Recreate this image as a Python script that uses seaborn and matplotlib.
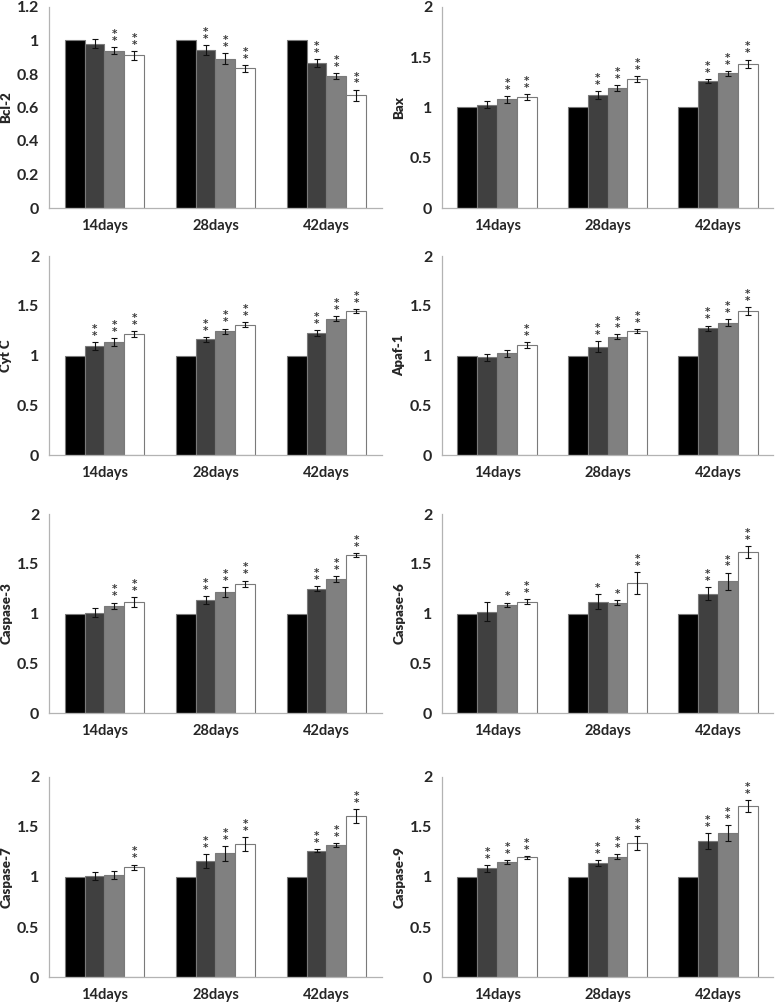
import numpy as np
import pandas as pd
import matplotlib
matplotlib.use("Agg")
import matplotlib.pyplot as plt
from matplotlib.container import BarContainer
from matplotlib.ticker import FuncFormatter, FixedLocator
import seaborn as sns

# categories / series
days = ["14days", "28days", "42days"]
groups = ["G0", "G1", "G2", "G3"]   # control + three treatment levels (no legend in figure)
bar_colors = ["#000000", "#404040", "#808080", "#ffffff"]

# values: rows = days, cols = groups
bcl2_mean = [[1.0, 0.981, 0.939, 0.911], [1.0, 0.945, 0.892, 0.834], [1.0, 0.866, 0.790, 0.673]]
bcl2_err = [[0, 0.025, 0.022, 0.027], [0, 0.029, 0.031, 0.020], [0, 0.022, 0.017, 0.034]]
bcl2_star = [["", "", "**", "**"], ["", "**", "**", "**"], ["", "**", "**", "**"]]

bax_mean = [[1.0, 1.027, 1.080, 1.103], [1.0, 1.120, 1.193, 1.283], [1.0, 1.260, 1.340, 1.437]]
bax_err = [[0, 0.033, 0.035, 0.032], [0, 0.040, 0.033, 0.030], [0, 0.020, 0.027, 0.040]]
bax_star = [["", "", "**", "**"], ["", "**", "**", "**"], ["", "**", "**", "**"]]

cytc_mean = [[1.0, 1.094, 1.137, 1.217], [1.0, 1.164, 1.244, 1.311], [1.0, 1.224, 1.371, 1.448]]
cytc_err = [[0, 0.040, 0.040, 0.030], [0, 0.025, 0.027, 0.028], [0, 0.033, 0.028, 0.023]]
cytc_star = [["", "**", "**", "**"], ["", "**", "**", "**"], ["", "**", "**", "**"]]

apaf_mean = [[1.0, 0.980, 1.023, 1.107], [1.0, 1.090, 1.190, 1.247], [1.0, 1.274, 1.331, 1.448]]
apaf_err = [[0, 0.033, 0.035, 0.030], [0, 0.058, 0.023, 0.023], [0, 0.027, 0.037, 0.040]]
apaf_star = [["", "", "", "**"], ["", "**", "**", "**"], ["", "**", "**", "**"]]

casp3_mean = [[1.0, 1.007, 1.080, 1.117], [1.0, 1.134, 1.217, 1.301], [1.0, 1.247, 1.344, 1.585]]
casp3_err = [[0, 0.047, 0.030, 0.047], [0, 0.038, 0.047, 0.030], [0, 0.025, 0.028, 0.022]]
casp3_star = [["", "", "**", "**"], ["", "**", "**", "**"], ["", "**", "**", "**"]]

casp6_mean = [[1.0, 1.020, 1.087, 1.120], [1.0, 1.120, 1.110, 1.304], [1.0, 1.200, 1.324, 1.619]]
casp6_err = [[0, 0.095, 0.023, 0.023], [0, 0.075, 0.025, 0.110], [0, 0.068, 0.087, 0.060]]
casp6_star = [["", "", "*", "**"], ["", "*", "*", "**"], ["", "**", "**", "**"]]

casp7_mean = [[1.0, 1.013, 1.023, 1.100], [1.0, 1.160, 1.237, 1.331], [1.0, 1.264, 1.321, 1.612]]
casp7_err = [[0, 0.042, 0.038, 0.025], [0, 0.072, 0.075, 0.067], [0, 0.017, 0.022, 0.070]]
casp7_star = [["", "", "", "**"], ["", "**", "**", "**"], ["", "**", "**", "**"]]

casp9_mean = [[1.0, 1.087, 1.150, 1.197], [1.0, 1.140, 1.204, 1.341], [1.0, 1.358, 1.441, 1.706]]
casp9_err = [[0, 0.033, 0.023, 0.013], [0, 0.027, 0.022, 0.067], [0, 0.078, 0.080, 0.060]]
casp9_star = [["", "**", "**", "**"], ["", "**", "**", "**"], ["", "**", "**", "**"]]

panels = [
    ("Bcl-2", bcl2_mean, bcl2_err, bcl2_star, 1.2, 0.2),
    ("Bax", bax_mean, bax_err, bax_star, 2.0, 0.5),
    ("Cyt C", cytc_mean, cytc_err, cytc_star, 2.0, 0.5),
    ("Apaf-1", apaf_mean, apaf_err, apaf_star, 2.0, 0.5),
    ("Caspase-3", casp3_mean, casp3_err, casp3_star, 2.0, 0.5),
    ("Caspase-6", casp6_mean, casp6_err, casp6_star, 2.0, 0.5),
    ("Caspase-7", casp7_mean, casp7_err, casp7_star, 2.0, 0.5),
    ("Caspase-9", casp9_mean, casp9_err, casp9_star, 2.0, 0.5),
]

sns.set_style("white")
plt.rcParams["font.family"] = ["Lato", "DejaVu Sans"]
plt.rcParams["font.weight"] = "bold"

fig = plt.figure(figsize=(7.77, 10.05), dpi=100)

# axes boxes in pixels (top, bottom) per row and (left, right) per column
rows_px = [(7, 208), (256, 455), (514, 713), (777, 977)]
cols_px = [(49, 382), (442, 773)]
W, H = 777, 1005

axis_gray = "#b3b3b3"

for i, (name, mean, err, star, ymax, ystep) in enumerate(panels):
    r, c = divmod(i, 2)
    top, bot = rows_px[r]
    left, right = cols_px[c]
    ax = fig.add_axes([left / W, 1 - bot / H, (right - left) / W, (bot - top) / H])

    df = pd.DataFrame({
        "day": np.repeat(days, len(groups)),
        "group": groups * len(days),
        "value": np.array(mean).ravel(),
    })
    sns.barplot(data=df, x="day", y="value", hue="group", order=days, hue_order=groups,
                palette=bar_colors, saturation=1, width=0.72, gap=0, errorbar=None,
                edgecolor="#7a7a7a", linewidth=0.8, legend=False, ax=ax)

    # error bars + significance marks, positioned from the drawn bars
    bar_conts = [cn for cn in ax.containers if isinstance(cn, BarContainer)]
    for g, cont in enumerate(bar_conts):
        for bar in cont:
            xc = bar.get_x() + bar.get_width() / 2
            d = int(round(xc))
            e = err[d][g]
            h = bar.get_height()
            if e > 0:
                ax.errorbar(xc, h, yerr=e, fmt="none", ecolor="#111111",
                            elinewidth=0.8, capsize=2.2, capthick=0.8, zorder=5)
            s = star[d][g]
            if s:
                ax.annotate("\n".join(s), (xc, h + e), xytext=(0, 0.8),
                            textcoords="offset points", ha="center", va="bottom",
                            fontsize=7.5, color="#3a3a3a", linespacing=0.62,
                            family="DejaVu Sans", fontweight="bold")

    ax.set_xlim(-0.5, 2.5)
    ax.set_ylim(0, ymax)
    ax.set_yticks(np.arange(0, ymax + 1e-9, ystep))
    ax.yaxis.set_major_formatter(FuncFormatter(lambda v, p: f"{v:g}"))
    ax.tick_params(axis="y", length=0, labelsize=11.5, pad=7)
    ax.tick_params(axis="x", which="major", length=0, labelsize=10.5, pad=8)
    ax.xaxis.set_minor_locator(FixedLocator([-0.5, 0.5, 1.5, 2.5]))
    ax.tick_params(axis="x", which="minor", length=4, width=0.8, color=axis_gray)
    ax.set_xlabel("")
    ax.set_ylabel(name, fontsize=9.5, fontweight="heavy")
    ax.yaxis.set_label_coords(-0.11, 0.5)
    for sp in ["top", "right"]:
        ax.spines[sp].set_visible(False)
    for sp in ["left", "bottom"]:
        ax.spines[sp].set_color(axis_gray)
        ax.spines[sp].set_linewidth(0.9)

fig.savefig("out.png", dpi=100)
